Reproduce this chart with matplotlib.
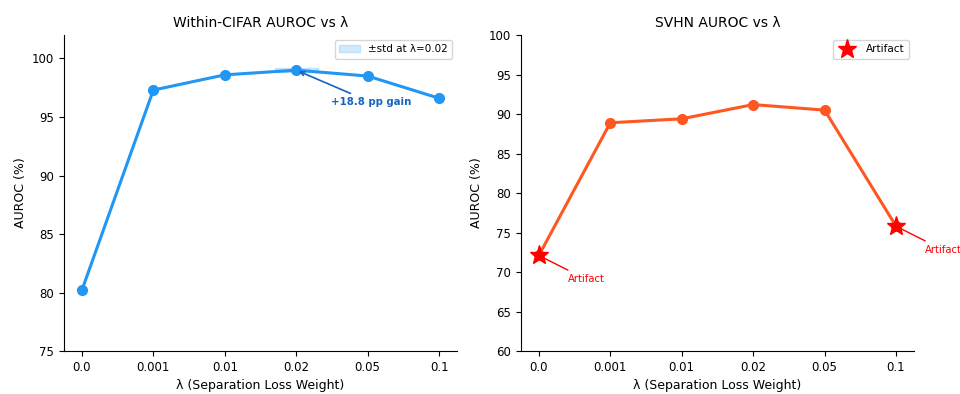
import numpy as np
import matplotlib.pyplot as plt

lambdas = ['0.0', '0.001', '0.01', '0.02', '0.05', '0.1']
cifar_auroc = [80.2, 97.3, 98.6, 99.0, 98.5, 96.6]
cifar_std = 0.15
svhn_auroc = [72.1, 88.9, 89.4, 91.2, 90.5, 75.8]
artifact_idx = [0, 5]

x = np.arange(len(lambdas))

fig = plt.figure(figsize=(9.6, 3.94), dpi=100)
ax1 = fig.add_axes([0.0667, 0.109, 0.4093, 0.802])
ax2 = fig.add_axes([0.5427, 0.109, 0.4093, 0.802])

# Within-CIFAR
ax1.plot(x, cifar_auroc, 'o-', color='#2196F3', lw=2.2, ms=7)
ax1.fill_between([3 - 0.3, 3 + 0.3], cifar_auroc[3] - cifar_std, cifar_auroc[3] + cifar_std,
                 color='#2196F3', alpha=0.2, label='±std at λ=0.02')
ax1.annotate(f'+{cifar_auroc[3] - cifar_auroc[0]:.1f} pp gain', xy=(3, cifar_auroc[3]),
             xytext=(4.05, 96.0), ha='center', fontsize=7.3, fontweight='bold', color='#1565C0',
             arrowprops=dict(arrowstyle='->', color='#1565C0', lw=1.2))
ax1.set_ylim(75, 102)
ax1.set_title('Within-CIFAR AUROC vs λ', fontsize=10)
ax1.legend(loc='upper right', fontsize=7.5)

# SVHN
ax2.plot(x, svhn_auroc, 'o-', color='#FF5722', lw=2.2, ms=7)
ax2.plot(x[artifact_idx], [svhn_auroc[i] for i in artifact_idx], '*', color='red', ms=14,
         ls='none', label='Artifact', zorder=5)
for i in artifact_idx:
    ax2.annotate('Artifact', xy=(x[i], svhn_auroc[i]), xytext=(x[i] + 0.4, svhn_auroc[i] - 3),
                 fontsize=7.2, color='red', va='center',
                 arrowprops=dict(arrowstyle='-', color='red', lw=1))
ax2.set_ylim(60, 100)
ax2.set_title('SVHN AUROC vs λ', fontsize=10)
ax2.legend(loc='upper right', fontsize=7.5)

for ax in (ax1, ax2):
    ax.set_xticks(x)
    ax.set_xticklabels(lambdas)
    ax.set_xlabel('λ (Separation Loss Weight)', fontsize=9)
    ax.set_ylabel('AUROC (%)', fontsize=9)
    ax.tick_params(labelsize=8.5)
    ax.spines['top'].set_visible(False)
    ax.spines['right'].set_visible(False)

fig.savefig('out.png', dpi=100)
